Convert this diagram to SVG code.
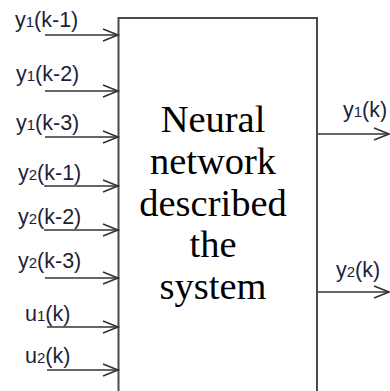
<svg xmlns="http://www.w3.org/2000/svg" width="390" height="391" viewBox="0 0 390 391">
<defs>
<style>
.lbl{font-family:"Liberation Sans",Arial,sans-serif;font-size:21.5px;fill:#1e1e3a}
.sub{font-size:15px}
.ctr{font-family:"Liberation Serif","Times New Roman",serif;font-size:38.5px;fill:#000;text-anchor:middle}
.arr{stroke:#333;stroke-width:1.6;fill:none;marker-end:url(#chev)}
.box{stroke:#4a4a4a;stroke-width:2;fill:#fff}
</style>
<marker id="chev" markerUnits="userSpaceOnUse" markerWidth="20" markerHeight="16" viewBox="-17 -8 20 16" refX="0" refY="0" orient="auto">
<path d="M-15,-6 L0,0 L-15,6" fill="none" stroke="#333" stroke-width="1.6"/>
</marker>
</defs>
<rect width="390" height="391" fill="#fff"/>
<g id="system">
<path class="box" d="M118.5,392 V18 H317 V392"/>
<text class="ctr" x="213" y="132">Neural</text>
<text class="ctr" x="213" y="174">network</text>
<text class="ctr" x="213" y="216">described</text>
<text class="ctr" x="213" y="257">the</text>
<text class="ctr" x="213" y="299">system</text>
</g>
<g id="labels">
<text class="lbl" x="15" y="27">y<tspan class="sub">1</tspan>(k-1)</text>
<text class="lbl" x="16" y="81">y<tspan class="sub">1</tspan>(k-2)</text>
<text class="lbl" x="16" y="130">y<tspan class="sub">1</tspan>(k-3)</text>
<text class="lbl" x="18" y="180">y<tspan class="sub">2</tspan>(k-1)</text>
<text class="lbl" x="18" y="224">y<tspan class="sub">2</tspan>(k-2)</text>
<text class="lbl" x="18" y="268">y<tspan class="sub">2</tspan>(k-3)</text>
<text class="lbl" x="25" y="321">u<tspan class="sub">1</tspan>(k)</text>
<text class="lbl" x="25" y="363">u<tspan class="sub">2</tspan>(k)</text>
<text class="lbl" x="343" y="117">y<tspan class="sub">1</tspan>(k)</text>
<text class="lbl" x="336" y="277">y<tspan class="sub">2</tspan>(k)</text>
</g>
<g id="connectors">
<line class="arr" x1="45" y1="35" x2="118" y2="35"/>
<line class="arr" x1="45" y1="91" x2="118" y2="91"/>
<line class="arr" x1="45" y1="137" x2="118" y2="137"/>
<line class="arr" x1="44" y1="186" x2="118" y2="186"/>
<line class="arr" x1="44" y1="230" x2="118" y2="230"/>
<line class="arr" x1="45" y1="278" x2="118" y2="278"/>
<line class="arr" x1="47" y1="327" x2="118" y2="327"/>
<line class="arr" x1="47" y1="370" x2="118" y2="370"/>
<line class="arr" x1="318" y1="134" x2="389" y2="134"/>
<line class="arr" x1="318" y1="292" x2="389" y2="292"/>
</g>
</svg>
